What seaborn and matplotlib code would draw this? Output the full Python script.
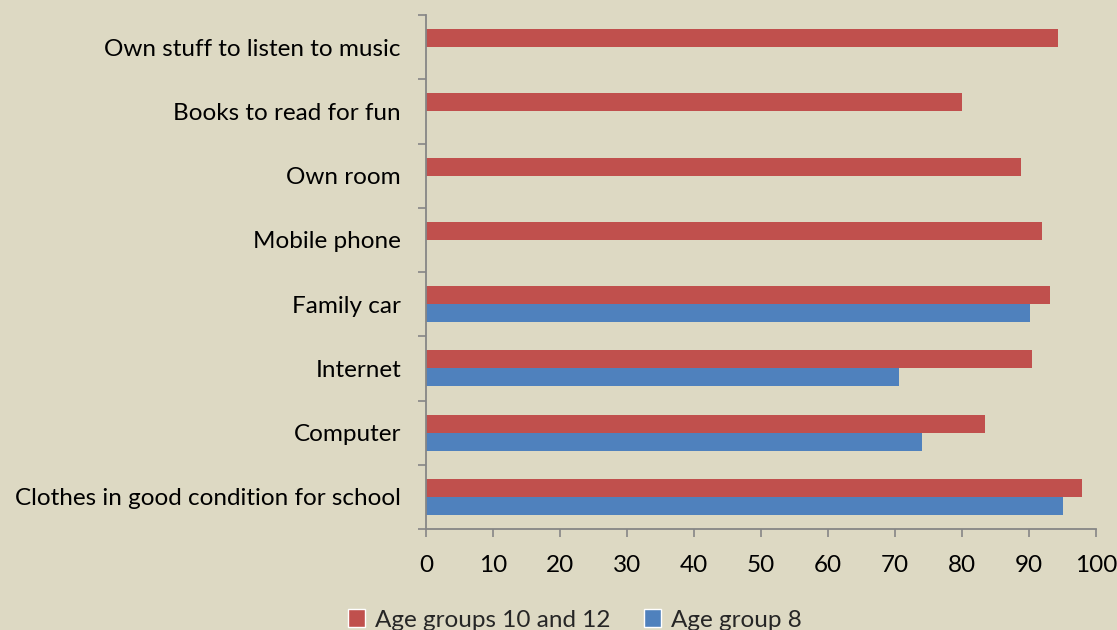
import matplotlib
matplotlib.use("Agg")
import matplotlib.pyplot as plt
import seaborn as sns
import pandas as pd
import numpy as np
from matplotlib.patches import Patch

categories = ["Own stuff to listen to music", "Books to read for fun", "Own room",
              "Mobile phone", "Family car", "Internet", "Computer",
              "Clothes in good condition for school"]
age_10_12 = [94.3, 80.0, 88.8, 92.0, 93.1, 90.5, 83.4, 97.9]
age_8 = [np.nan, np.nan, np.nan, np.nan, 90.1, 70.6, 74.1, 95.1]
series_names = ["Age groups 10 and 12", "Age group 8"]
x_ticks = [0, 10, 20, 30, 40, 50, 60, 70, 80, 90, 100]

df = pd.DataFrame({
    "category": categories * 2,
    "value": age_10_12 + age_8,
    "series": [series_names[0]] * len(categories) + [series_names[1]] * len(categories),
})

bg = "#DDD9C3"
red = "#C0504D"
blue = "#4F81BD"
axis_col = "#868686"
fs = 17.5

sns.set_theme(style="white")
plt.rcParams["font.family"] = ["Lato", "DejaVu Sans"]

fig = plt.figure(figsize=(11.17, 6.3), dpi=100)
fig.patch.set_facecolor(bg)
ax = fig.add_axes([426 / 1117, 1 - 529 / 630, (1096 - 426) / 1117, (529 - 15) / 630])
ax.set_facecolor(bg)

sns.barplot(data=df, y="category", x="value", hue="series", order=categories,
            hue_order=series_names, palette=[red, blue], orient="h",
            width=0.56, dodge=True, ax=ax, legend=False, edgecolor="none",
            errorbar=None, saturation=1)

ax.set_xlim(0, 100)
ax.set_ylim(len(categories) - 0.5, -0.5)
ax.set_xticks(x_ticks)
ax.set_xticklabels([str(t) for t in x_ticks], fontsize=fs, color="black")
ax.set_yticks(range(len(categories)))
ax.set_yticklabels(categories, fontsize=fs, color="black")
ax.set_yticks(np.arange(-0.5, len(categories), 1.0), minor=True)
ax.tick_params(axis="y", which="major", length=0, pad=18)
ax.tick_params(axis="y", which="minor", length=6, width=1.2, color=axis_col, direction="out", left=True)
ax.tick_params(axis="x", which="major", length=6, width=1.2, color=axis_col, direction="out", bottom=True, pad=13)
ax.set_xlabel("")
ax.set_ylabel("")

for s in ["top", "right"]:
    ax.spines[s].set_visible(False)
for s in ["left", "bottom"]:
    ax.spines[s].set_color(axis_col)
    ax.spines[s].set_linewidth(1.3)

handles = [Patch(facecolor=red, label=series_names[0]),
           Patch(facecolor=blue, label=series_names[1])]
fig.legend(handles=handles, loc="center", bbox_to_anchor=(575 / 1117, 1 - 620 / 630),
           ncol=2, frameon=False, fontsize=fs, handlelength=0.7, handleheight=0.7,
           handletextpad=0.4, columnspacing=1.4, borderpad=0)

fig.savefig("out.png", dpi=100, facecolor=bg)
